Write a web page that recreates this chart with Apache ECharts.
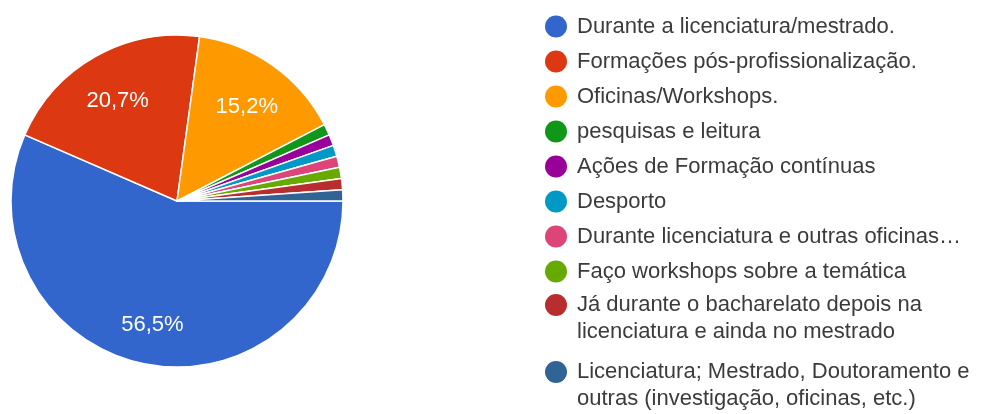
<!DOCTYPE html>
<html><head><meta charset="utf-8">
<script src="https://cdn.jsdelivr.net/npm/echarts@6/dist/echarts.min.js"></script>
<style>html,body{margin:0;padding:0;background:#fff}#c{width:993px;height:414px}</style>
</head><body><div id="c"></div>
<script>
const categories = [
  'Durante a licenciatura/mestrado.',
  'Formações pós-profissionalização.',
  'Oficinas/Workshops.',
  'pesquisas e leitura',
  'Ações de Formação contínuas',
  'Desporto',
  'Durante licenciatura e outras oficinas…',
  'Faço workshops sobre a temática',
  'Já durante o bacharelato depois na\nlicenciatura e ainda no mestrado',
  'Licenciatura; Mestrado, Doutoramento e\noutras (investigação, oficinas, etc.)'
];
const counts = [52, 19, 14, 1, 1, 1, 1, 1, 1, 1];
const colors = ['#3366cc','#dc3912','#ff9900','#109618','#990099','#0099c6','#dd4477','#66aa00','#b82e2e','#316395'];

const data = categories.map((n, i) => ({ name: n, value: counts[i] }));
const FONT = 'Liberation Sans, Arial, sans-serif';
const legendText = { fontFamily: FONT, fontSize: 22, color: '#3b3b3b', lineHeight: 24, padding: [0, 0, 0, 5] };
const legendText2 = { fontFamily: FONT, fontSize: 22, color: '#3b3b3b', lineHeight: 27, padding: [0, 0, 0, 5] };
const legendBase = {
  orient: 'vertical', left: 545, padding: 0, icon: 'circle', itemWidth: 22, itemHeight: 22,
  selectedMode: false, itemStyle: { borderWidth: 0 }
};

const chart = echarts.init(document.getElementById('c'));
chart.setOption({
  animation: false,
  color: colors,
  legend: [
    Object.assign({}, legendBase, { top: 14.5, itemGap: 11, data: categories.slice(0, 8), textStyle: legendText }),
    Object.assign({}, legendBase, { top: 264.5, data: [categories[8]], textStyle: legendText2, formatter: n => '\n' + n }),
    Object.assign({}, legendBase, { top: 331.5, data: [categories[9]], textStyle: legendText2, formatter: n => '\n' + n })
  ],
  series: [
    {
      type: 'pie', center: [177, 201], radius: 166, startAngle: 0, clockwise: true,
      data: data, label: { show: false }, labelLine: { show: false },
      itemStyle: { borderColor: '#fff', borderWidth: 1.5 }, emphasis: { disabled: true }
    },
    {
      type: 'pie', center: [177, 201], radius: [70, 166], startAngle: 0, clockwise: true,
      percentPrecision: 3, silent: true, data: data,
      itemStyle: { color: 'transparent', borderWidth: 0 },
      labelLine: { show: false }, emphasis: { disabled: true },
      label: {
        show: true, position: 'inside', color: '#fff', fontFamily: FONT, fontSize: 22, offset: [0, 5],
        formatter: p => p.percent >= 5 ? (Math.round(p.percent * 10) / 10).toFixed(1).replace('.', ',') + '%' : ''
      }
    }
  ]
});
</script></body></html>
